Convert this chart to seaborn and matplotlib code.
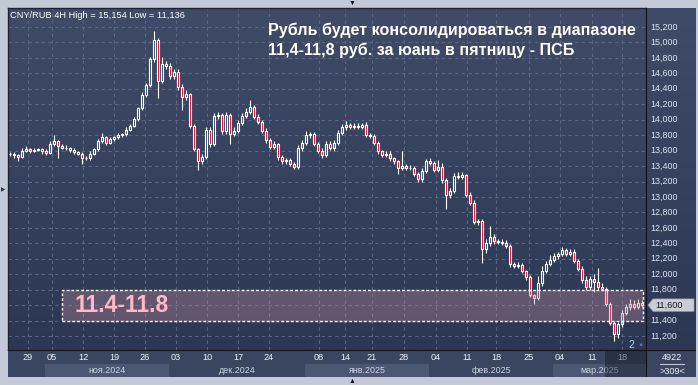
import numpy as np
import pandas as pd
import matplotlib
matplotlib.use("Agg")
import matplotlib.pyplot as plt
import seaborn as sns
from matplotlib.colors import LinearSegmentedColormap
from matplotlib.patches import Rectangle, Polygon

# ---------------- data ----------------
first_open = 13550
closes = [
    13560, 13540, 13520, 13600, 13620, 13600, 13610, 13620, 13590, 13570,
    13680, 13720, 13660, 13640, 13630, 13610, 13580, 13560, 13510, 13500,
    13560, 13620, 13720, 13770, 13700, 13750, 13770, 13800, 13810, 13870,
    13920, 14010, 14150, 14320, 14450, 14780, 15030, 14500, 14720, 14700,
    14560, 14620, 14420, 14290, 14330, 13920, 13620, 13470, 13520, 13870,
    13690, 14050, 14060, 13850, 14060, 13820, 13860, 13960, 14050, 14100,
    14160, 14040, 13970, 13860, 13740, 13650, 13680, 13520, 13460, 13480,
    13430, 13390, 13630, 13700, 13800, 13810, 13690, 13600, 13545, 13690,
    13640, 13700, 13830, 13900, 13930, 13910, 13920, 13910, 13930, 13800,
    13790, 13700, 13590, 13545, 13560, 13500, 13460, 13375, 13400, 13380,
    13380, 13300, 13230, 13340, 13460, 13440, 13350, 13390, 13220, 13020,
    13080, 13270, 13260, 13280, 13030, 12920, 12680, 12690, 12320, 12400,
    12480, 12430, 12420, 12410, 12370, 12130, 12110, 12120, 12040, 11960,
    11730, 11690, 11880, 12040, 12130, 12190, 12230, 12260, 12310, 12260,
    12290, 12170, 12070, 11920, 11830, 11940, 11900, 11830, 11810, 11620,
    11370, 11220, 11350, 11500, 11580, 11620, 11580, 11630, 11600,
]
wick_up = [
    20, 20, 20, 30, 40, 20, 30, 20, 20, 30,
    40, 80, 20, 20, 30, 20, 20, 20, 20, 20,
    30, 20, 30, 60, 20, 30, 20, 30, 20, 30,
    20, 30, 20, 40, 30, 30, 124, 30, 90, 40,
    30, 40, 30, 40, 60, 20, 20, 20, 30, 40,
    30, 40, 40, 30, 40, 30, 40, 30, 40, 50,
    90, 30, 30, 20, 30, 20, 40, 20, 20, 30,
    20, 20, 40, 40, 60, 30, 30, 20, 30, 40,
    30, 40, 40, 40, 50, 30, 40, 40, 30, 40,
    30, 30, 20, 20, 40, 30, 20, 20, 190, 30,
    40, 20, 20, 40, 30, 40, 30, 90, 50, 20,
    40, 40, 50, 40, 20, 30, 40, 30, 20, 60,
    150, 40, 30, 30, 30, 20, 30, 40, 30, 20,
    30, 20, 100, 60, 40, 60, 40, 30, 40, 30,
    40, 30, 30, 30, 60, 40, 60, 180, 60, 30,
    20, 20, 30, 40, 40, 60, 40, 50, 40,
]
wick_dn = [
    20, 40, 50, 20, 20, 30, 20, 20, 30, 30,
    20, 20, 160, 20, 20, 30, 20, 20, 80, 20,
    20, 20, 20, 20, 30, 20, 20, 20, 30, 20,
    20, 20, 30, 20, 30, 30, 30, 220, 30, 40,
    30, 30, 30, 170, 40, 30, 30, 120, 40, 30,
    40, 30, 40, 30, 30, 140, 30, 30, 30, 30,
    30, 30, 30, 30, 40, 30, 30, 40, 30, 30,
    30, 30, 30, 30, 30, 40, 30, 30, 40, 30,
    30, 40, 30, 30, 30, 30, 30, 30, 30, 30,
    30, 30, 30, 30, 30, 30, 30, 75, 30, 30,
    30, 30, 40, 30, 30, 30, 30, 30, 40, 170,
    30, 30, 30, 30, 30, 30, 30, 40, 170, 40,
    30, 40, 30, 30, 30, 40, 30, 30, 30, 30,
    30, 70, 30, 30, 30, 30, 30, 30, 30, 30,
    30, 30, 30, 30, 30, 30, 130, 30, 30, 30,
    30, 84, 40, 30, 30, 40, 30, 30, 30,
]
day_labels = ["29", "05", "12", "19", "26", "03", "10", "17", "24", "08",
              "14", "21", "28", "04", "11", "18", "25", "04", "11", "18"]
day_index = [4.5, 10.5, 18.25, 26, 33.75, 41.5, 49.25, 57, 64.75, 77.25,
             83.75, 90.5, 98.5, 106.5, 114.25, 121.5, 129.75, 137.5, 145.5, 153]
month_labels = ["ноя.2024", "дек.2024", "янв.2025", "фев.2025", "мар.2025"]
month_start = [8.75, 39.75, 73.75, 104.75, 135.75, 159.0]
price_ticks = list(range(11200, 15201, 200))
range_low, range_high = 11400, 11800
last_price = 11600
title1 = "Рубль будет консолидироваться в диапазоне"
title2 = "11,4-11,8 руб. за юань в пятницу - ПСБ"
header = "CNY/RUB 4H High = 15,154 Low = 11,136"

opens = [first_open] + closes[:-1]
df = pd.DataFrame({"open": opens, "close": closes})
df["idx"] = np.arange(len(df))
df["top"] = df[["open", "close"]].max(axis=1)
df["bot"] = df[["open", "close"]].min(axis=1)
df["high"] = df["top"] + np.array(wick_up)
df["low"] = df["bot"] - np.array(wick_dn)
df["up"] = df["close"] >= df["open"]

# ---------------- style ----------------
sns.set_theme(style="dark")
plt.rcParams["font.family"] = ["Liberation Sans", "DejaVu Sans"]

W, H = 698, 385
FRAME = "#c2cad7"
fig = plt.figure(figsize=(W / 100, H / 100), dpi=100, facecolor=FRAME)

def fx(px):
    return px / W

def fy(py):
    return 1 - py / H

XL = (-0.5, 159.0)
YL = (11019, 15446)
grad = LinearSegmentedColormap.from_list("bg", ["#3f4b67", "#2c3853"])

# main axes
ax = fig.add_axes([fx(8), fy(350), 638 / W, 342 / H])
ax.set_xlim(*XL)
ax.set_ylim(*YL)
ax.imshow(np.linspace(0, 1, 256).reshape(-1, 1), cmap=grad, aspect="auto",
          extent=[XL[0], XL[1], YL[0], YL[1]], zorder=0)
for v in price_ticks:
    ax.axhline(v, color="#5a6682", lw=0.8, ls=(0, (3, 3)), zorder=1)
for d in day_index:
    ax.axvline(d, color="#5a6682", lw=0.8, ls=(0, (3, 3)), zorder=1)
ax.set_xticks([])
ax.set_yticks([])
for s in ax.spines.values():
    s.set_color("#1c2230")
    s.set_linewidth(1.0)

# wicks (split so hollow bodies stay hollow)
ax.vlines(df["idx"], df["top"], df["high"], color="white", lw=0.8, zorder=3)
ax.vlines(df["idx"], df["low"], df["bot"], color="white", lw=0.8, zorder=3)
up = df[df["up"]]
dn = df[~df["up"]]
ax.bar(up["idx"], up["top"] - up["bot"], bottom=up["bot"], width=0.72,
       facecolor="none", edgecolor="white", linewidth=0.8, zorder=4)
ax.bar(dn["idx"], dn["top"] - dn["bot"], bottom=dn["bot"], width=0.72,
       facecolor="#e3002b", edgecolor="white", linewidth=0.8, zorder=4)

# range box
ax.add_patch(Rectangle((13.0, range_low), 145.25, range_high - range_low,
                       facecolor=(0.72, 0.52, 0.60, 0.38), edgecolor="white",
                       lw=1.0, ls=(0, (2, 1.5)), zorder=6))
fig.text(fx(75), fy(305), "11.4-11.8", fontsize=16.5, fontweight="bold",
         color="#ffb8c8", va="center", ha="left", zorder=10)

# header and title
fig.text(fx(10), fy(15), header, fontsize=6.7, color="white", va="center", ha="left")
fig.text(fx(268), fy(30.5), title1, fontsize=11.6, fontweight="bold",
         color="white", va="center", ha="left")
fig.text(fx(268), fy(50.5), title2, fontsize=11.6, fontweight="bold",
         color="white", va="center", ha="left")
fig.text(fx(631), fy(345), "2", fontsize=7.5, color="#a9cdf2", va="center", ha="center")
fig.text(fx(641), fy(345), "▲", fontsize=4.5, color="#6a768e", va="center", ha="center")

# right price axis
axr = fig.add_axes([fx(646), fy(350), 50 / W, 342 / H])
axr.set_xlim(0, 50)
axr.set_ylim(*YL)
axr.imshow(np.linspace(0, 1, 256).reshape(-1, 1), cmap=grad, aspect="auto",
           extent=[0, 50, YL[0], YL[1]], zorder=0)
axr.set_xticks([])
axr.set_yticks([])
for s in axr.spines.values():
    s.set_visible(False)
axr.axvline(0, color="#101418", lw=1.5)
for v in price_ticks:
    if v == last_price:
        continue  # shown by the current-price marker
    axr.text(4, v, f"{v:,}", fontsize=6.4, color="#dfe6f4", va="center", ha="left")
axr.add_patch(Polygon([(2, last_price), (7, last_price + 80), (48, last_price + 80),
                       (48, last_price - 80), (7, last_price - 80)],
                      closed=True, facecolor="#c8cdd6", edgecolor="#9aa2b0", lw=0.5, zorder=5))
axr.text(9, last_price, f"{last_price:,}", fontsize=6.6, color="#1a1a1a",
         va="center", ha="left", zorder=6)

# date axis
axd = fig.add_axes([fx(8), fy(377), 638 / W, 27 / H])
axd.set_xlim(*XL)
axd.set_ylim(27, 0)
axd.set_facecolor("#3a4661")
axd.set_xticks([])
axd.set_yticks([])
for s in axd.spines.values():
    s.set_visible(False)
for k, lab in enumerate(month_labels):
    a, b = month_start[k], month_start[k + 1]
    if k % 2 == 0:
        axd.add_patch(Rectangle((a, 14), b - a, 13, facecolor="#4c5873",
                                edgecolor="none", zorder=1))
    axd.text((a + b) / 2, 20.5, lab, fontsize=6.4, color="#cdd5e4",
             ha="center", va="center", zorder=3)
for d, lab in zip(day_index, day_labels):
    axd.text(d, 8, lab, fontsize=6.6, color="#eef2fa", ha="center", va="center", zorder=3)
axd.add_patch(Rectangle((148.75, 0), 10.25, 27, facecolor=(0.08, 0.1, 0.16, 0.45),
                        edgecolor="none", zorder=4))
axd.axhline(0, color="#101418", lw=1.5, zorder=5)

# corner counter
axc = fig.add_axes([fx(646), fy(377), 50 / W, 27 / H])
axc.set_xlim(0, 50)
axc.set_ylim(27, 0)
axc.set_facecolor("#3a4661")
axc.set_xticks([])
axc.set_yticks([])
for s in axc.spines.values():
    s.set_visible(False)
axc.axvline(0, color="#101418", lw=1.5)
axc.axhline(0, color="#101418", lw=1.5)
axc.text(26, 8, "4922", fontsize=6.6, color="#eef2fa", ha="center", va="center")
axc.plot([14, 38], [14, 14], color="#c0c8d8", lw=0.8)
axc.text(26, 21, ">309<", fontsize=6.6, color="#eef2fa", ha="center", va="center")

# frame markers
fig.text(fx(352), fy(3.5), "▼", fontsize=5, color="#111111", ha="center", va="center")
fig.text(fx(352), fy(381.5), "▲", fontsize=5, color="#111111", ha="center", va="center")
fig.text(fx(3.5), fy(190), "▶", fontsize=4, color="#333333", ha="center", va="center")

fig.savefig("out.png", dpi=100, facecolor=FRAME)
